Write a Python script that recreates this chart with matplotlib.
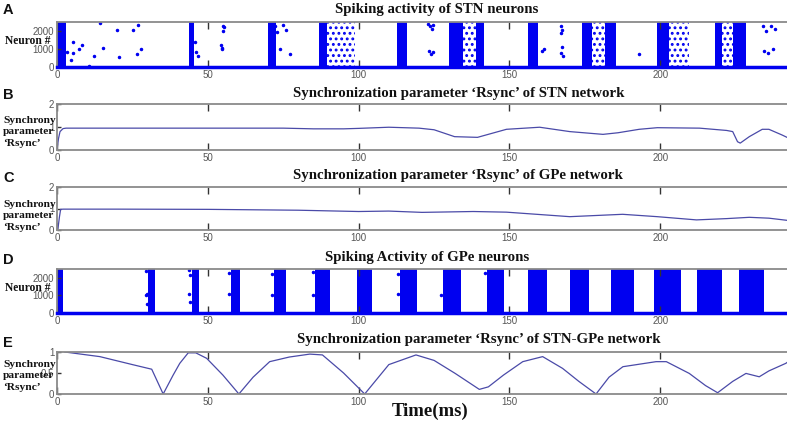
import matplotlib
matplotlib.use("Agg")
import matplotlib.pyplot as plt
import numpy as np

# ---------------- data ----------------
# Panel A: STN raster (dense burst intervals, sparse burst intervals, isolated spikes)
stn_burst_start = [0.0, 43.7, 70.0, 86.8, 112.6, 130.0, 139.0, 156.0, 174.0, 181.5, 199.0, 218.0, 224.0]
stn_burst_end   = [3.0, 45.4, 72.5, 89.4, 115.9, 134.5, 141.5, 159.3, 177.5, 185.4, 203.0, 220.5, 228.5]
stn_sparse_start = [89.4, 134.5, 177.5, 203.0, 220.5]
stn_sparse_end   = [98.7, 139.0, 181.5, 209.6, 224.0]
stn_dot_t = [3.2, 4.5, 5.2, 5.4, 7.4, 8.2, 10.7, 12.3, 14.2, 15.1, 19.8, 20.5, 25.1, 26.4, 26.9, 27.7,
             45.7, 46.2, 46.6, 54.5, 54.8, 55.0, 55.2, 55.0, 54.7,
             72.2, 72.8, 73.8, 74.9, 76.0, 77.2,
             123.0, 123.8, 124.3, 124.6, 123.2, 124.0, 124.8,
             160.8, 161.4,
             167.0, 167.4, 167.2, 167.5, 167.1, 167.6,
             193.0,
             234.0, 235.2, 236.8, 237.9, 234.4, 235.8, 237.2]
stn_dot_n = [850, 400, 760, 1400, 980, 1220, 80, 630, 2430, 1040, 2055, 540, 2055, 700, 2330, 1000,
             1400, 850, 620, 1200, 1000, 2300, 2200, 2000, 1050,
             2300, 1950, 1000, 2330, 2050, 720,
             2400, 2250, 2100, 2350, 900, 750, 850,
             900, 1000,
             2300, 2050, 1900, 1100, 800, 600,
             750,
             2250, 2000, 2300, 2100, 900, 800, 1000]

# Panel B: Rsync of STN network
stn_r_t = [0, 0.5, 1.0, 2.0, 3.0, 20, 50, 75, 85, 95, 100, 110, 120, 125, 131.8, 139.4, 149, 160,
           170, 181, 186, 193, 199, 213, 222, 224, 225.6, 226.5, 229.5, 233.8, 236, 240.4, 242]
stn_r_v = [0.0, 0.5, 0.8, 0.93, 0.95, 0.95, 0.95, 0.95, 0.92, 0.92, 0.94, 0.99, 0.95, 0.88, 0.58, 0.55,
           0.9, 0.99, 0.8, 0.68, 0.75, 0.9, 0.97, 0.95, 0.85, 0.8, 0.36, 0.3, 0.58, 0.9, 0.9, 0.65, 0.55]

# Panel C: Rsync of GPe network
gpe_r_t = [0, 0.3, 0.8, 1.2, 2.0, 20, 50, 80, 100, 110, 121, 138, 149, 160, 170, 187.5, 199, 212,
           222, 229.5, 236, 242]
gpe_r_v = [0.3, 0.05, 0.6, 0.96, 0.97, 0.97, 0.96, 0.92, 0.86, 0.88, 0.82, 0.86, 0.83, 0.72, 0.62,
           0.73, 0.62, 0.47, 0.53, 0.59, 0.55, 0.45]

# Panel D: GPe raster
gpe_burst_start = [0.0, 30.2, 44.6, 57.6, 71.9, 85.4, 99.3, 113.6, 127.8, 142.4, 156.0, 169.9, 183.8, 198.0, 212.0, 226.0]
gpe_burst_end   = [2.0, 32.5, 47.0, 60.6, 75.8, 90.4, 104.3, 119.2, 133.8, 148.3, 162.3, 176.5, 191.4, 207.0, 220.5, 234.4]
gpe_dot_t = [29.6, 29.7, 29.5, 29.8, 43.9, 44.0, 43.8, 44.1, 57.0, 57.1, 71.3, 71.2, 84.8, 85.0, 113.0, 113.1, 127.3, 141.9]
gpe_dot_n = [2400, 1100, 1000, 500, 2450, 2150, 1100, 600, 2300, 1100, 2200, 1050, 2350, 1000, 2200, 1100, 1050, 2300]

# Panel E: Rsync of STN-GPe network
net_r_t = [2.6, 14.2, 25, 31.4, 35.2, 38.5, 40.7, 43.5, 46, 49.6, 55, 60.3, 65, 70.5, 77, 83.8, 88,
           95, 102, 106, 110, 119, 125, 132, 140, 143, 148, 154.4, 161, 167.6, 173, 178.7,
           183, 187.6, 198.6, 202, 209.6, 215, 219, 224, 228.4, 232.8, 236, 241.6, 242]
net_r_v = [1.0, 0.89, 0.7, 0.59, 0.0, 0.45, 0.73, 0.98, 0.98, 0.85, 0.45, 0.0, 0.4, 0.77, 0.88, 0.95,
           0.93, 0.5, 0.0, 0.35, 0.7, 0.93, 0.8, 0.49, 0.11, 0.17, 0.45, 0.77, 0.89, 0.61, 0.3, 0.0,
           0.4, 0.65, 0.77, 0.77, 0.49, 0.2, 0.03, 0.3, 0.49, 0.41, 0.55, 0.73, 0.75]

titles = ["Spiking activity of STN neurons",
          "Synchronization parameter \u2018Rsync\u2019 of STN network",
          "Synchronization parameter \u2018Rsync\u2019 of GPe network",
          "Spiking Activity of GPe neurons",
          "Synchronization parameter \u2018Rsync\u2019 of STN-GPe network"]
letters = ["A", "B", "C", "D", "E"]
x_ticks = [0, 50, 100, 150, 200]

# ---------------- layout ----------------
W, H = 787, 422
fig = plt.figure(figsize=(W / 100, H / 100), dpi=100)
left = 57 / W
boxes = [(22, 67), (104, 150), (187, 230), (269, 313), (352, 394)]
axes = []
for top, bot in boxes:
    axes.append(fig.add_axes([left, 1 - bot / H, 1 - left, (bot - top) / H]))

serif = "Liberation Serif"
sans = "Liberation Sans"
line_col = "#4a4aa8"
spike_col = "#0000f0"
grey = "#8a8a8a"
plt.rcParams["hatch.linewidth"] = 1.3

def style(ax, yticks, ylim, raster=False):
    ax.set_xlim(0, 242)
    ax.set_ylim(*ylim)
    ax.set_xticks(x_ticks)
    ax.set_yticks(yticks)
    ax.set_yticklabels([("%g" % v) for v in yticks])
    ax.tick_params(direction="in", length=5, width=1.0, color="#333333", top=True, bottom=True,
                   labelsize=7, labelcolor="#555555", pad=2)
    ax.tick_params(axis="y", length=3)
    for lab in ax.get_xticklabels() + ax.get_yticklabels():
        lab.set_fontfamily(sans)
    for s in ["top", "left", "bottom"]:
        ax.spines[s].set_color(grey)
        ax.spines[s].set_linewidth(1.3)
    ax.spines["right"].set_visible(False)
    if raster:
        ax.spines["bottom"].set_color(spike_col)
        ax.spines["bottom"].set_linewidth(2.5)
        ax.spines["bottom"].set_zorder(5)

def raster(ax, bs, be, ss, se, dt, dn):
    ax.broken_barh(list(zip(bs, np.subtract(be, bs))), (0, 2520), facecolors=spike_col,
                   edgecolors="none", clip_on=False)
    if ss:
        ax.broken_barh(list(zip(ss, np.subtract(se, ss))), (0, 2500), facecolors="none",
                       edgecolors=spike_col, hatch="...", linewidth=0)
    ax.plot(dt, dn, ".", color=spike_col, ms=3)

ax = axes[0]
raster(ax, stn_burst_start, stn_burst_end, stn_sparse_start, stn_sparse_end, stn_dot_t, stn_dot_n)
style(ax, [0, 1000, 2000], (0, 2500), raster=True)

ax = axes[1]
ax.plot(stn_r_t, stn_r_v, color=line_col, lw=0.9)
style(ax, [0, 1, 2], (0, 2))

ax = axes[2]
ax.plot(gpe_r_t, gpe_r_v, color=line_col, lw=0.9)
style(ax, [0, 1, 2], (0, 2))

ax = axes[3]
raster(ax, gpe_burst_start, gpe_burst_end, [], [], gpe_dot_t, gpe_dot_n)
style(ax, [0, 1000, 2000], (0, 2500), raster=True)

ax = axes[4]
ax.plot(net_r_t, net_r_v, color=line_col, lw=0.9)
style(ax, [0, 0.5, 1], (0, 1))

# titles and letters
title_x = [335, 293, 293, 325, 297]
title_y = [9, 93, 175, 257, 339]
letter_y = [10, 95, 178, 260, 343]
for i in range(5):
    fig.text(title_x[i] / W, 1 - title_y[i] / H, titles[i], ha="left", va="center",
             fontfamily=serif, fontweight="bold", fontsize=10.7, color="#111111")
    fig.text(3 / W, 1 - letter_y[i] / H, letters[i], ha="left", va="center", fontfamily=sans,
             fontweight="bold", fontsize=10.5, color="#111111")

# y labels
for yc in [41, 288]:
    fig.text(5 / W, 1 - yc / H, "Neuron #", ha="left", va="center", fontfamily=serif,
             fontweight="bold", fontsize=8.3, color="#111111")
for yc in [132, 216, 376]:
    fig.text(3 / W, 1 - yc / H, "Synchrony\nparameter\n\u2018Rsync\u2019", ha="left", va="center",
             fontfamily=serif, fontweight="bold", fontsize=8.2, linespacing=1.33, color="#111111")

fig.text(430 / W, 1 - 411 / H, "Time(ms)", ha="center", va="center", fontfamily=serif,
         fontweight="bold", fontsize=13.5, color="#111111")

fig.savefig("out.png", dpi=100)
